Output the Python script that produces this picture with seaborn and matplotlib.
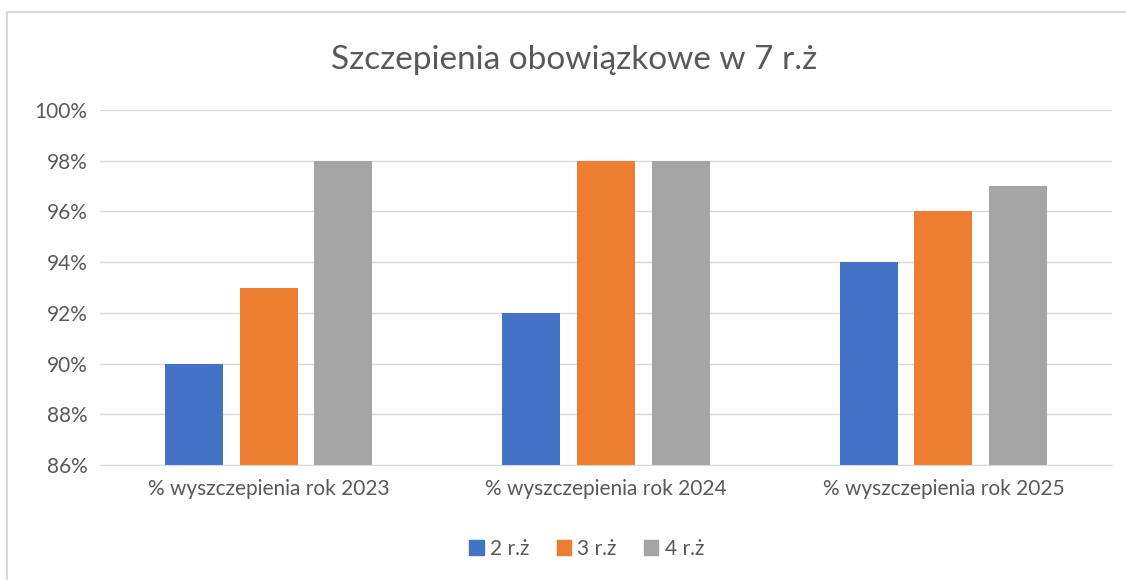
import pandas as pd
import matplotlib.pyplot as plt
import seaborn as sns
from matplotlib.lines import Line2D

# data
categories = ["% wyszczepienia rok 2023", "% wyszczepienia rok 2024", "% wyszczepienia rok 2025"]
series = ["2 r.ż", "3 r.ż", "4 r.ż"]
values_2rz = [0.90, 0.92, 0.94]
values_3rz = [0.93, 0.98, 0.96]
values_4rz = [0.98, 0.98, 0.97]
yticks = [0.86, 0.88, 0.90, 0.92, 0.94, 0.96, 0.98, 1.00]

df = pd.DataFrame({
    "kategoria": categories * 3,
    "seria": [s for s in series for _ in categories],
    "wartosc": values_2rz + values_3rz + values_4rz,
})

sns.set_style("white")
plt.rcParams['font.family'] = ['Lato', 'DejaVu Sans']
txt = "#595959"
palette = ["#4472C4", "#ED7D31", "#A5A5A5"]

fig = plt.figure(figsize=(11.26, 5.8), dpi=100)
ax = fig.add_axes([100/1126, 1 - 465/580, (1112 - 100)/1126, (465 - 110)/580])

sns.barplot(data=df, x="kategoria", y="wartosc", hue="seria", palette=palette,
            width=0.664, gap=0.22, ax=ax, legend=False, saturation=1, linewidth=0)

ax.set_ylim(0.86, 1.0)
ax.set_yticks(yticks)
ax.set_yticklabels([f"{round(v*100)}%" for v in yticks])
ax.set_xlabel("")
ax.set_ylabel("")
ax.grid(axis="y", color="#D9D9D9", linewidth=1)
ax.set_axisbelow(True)
for s in ["left", "right", "top"]:
    ax.spines[s].set_visible(False)
ax.spines["bottom"].set_color("#D9D9D9")
ax.tick_params(axis="both", colors=txt, labelsize=15, length=0)
ax.tick_params(axis="x", pad=10)
ax.tick_params(axis="y", pad=9)

fig.text(0.51, 1 - 60/580, "Szczepienia obowiązkowe w 7 r.ż", ha="center", va="center",
         fontsize=24, color=txt)

handles = [plt.Rectangle((0, 0), 1, 1, color=c) for c in palette]
fig.legend(handles, series, loc="center", bbox_to_anchor=(0.521, 1 - 549/580), ncol=3,
           frameon=False, fontsize=15, labelcolor=txt, handlelength=0.7, handleheight=0.7,
           handletextpad=0.3, columnspacing=1.3)

# chart frame
fig.add_artist(Line2D([7/1126, 1.01], [1 - 11.5/580] * 2, color="#D9D9D9", linewidth=1.5))
fig.add_artist(Line2D([7/1126] * 2, [-0.01, 1 - 11.5/580], color="#D9D9D9", linewidth=1.5))

fig.savefig("out.png", dpi=100)
